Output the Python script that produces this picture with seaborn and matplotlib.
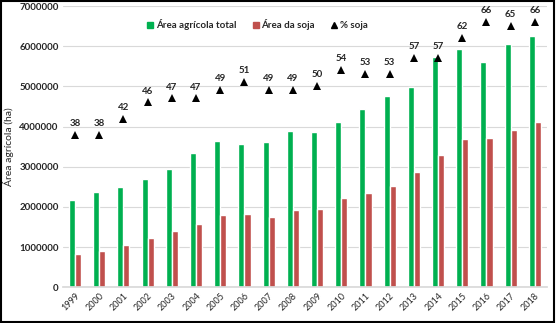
import matplotlib
matplotlib.use("Agg")
import matplotlib.pyplot as plt
import seaborn as sns
import pandas as pd
from matplotlib.lines import Line2D
from matplotlib.patches import Rectangle

years = [str(y) for y in range(1999, 2019)]
area_total = [2160000, 2360000, 2500000, 2700000, 2940000, 3330000, 3630000, 3570000, 3620000, 3880000,
              3870000, 4120000, 4440000, 4760000, 4990000, 5740000, 5920000, 5620000, 6050000, 6250000]
area_soja = [820000, 910000, 1040000, 1220000, 1390000, 1570000, 1800000, 1820000, 1750000, 1910000,
             1950000, 2210000, 2350000, 2530000, 2860000, 3300000, 3690000, 3720000, 3920000, 4110000]
pct_soja = [38, 38, 42, 46, 47, 47, 49, 51, 49, 49, 50, 54, 53, 53, 57, 57, 62, 66, 65, 66]
series_names = ["Área agrícola total", "Área da soja", "% soja"]
colors = ["#00B050", "#C0504D", "#000000"]

sns.set_theme(style="white")
plt.rcParams['font.family'] = ['Lato', 'DejaVu Sans']

df = pd.DataFrame({
    "ano": years * 2,
    "area": area_total + area_soja,
    "serie": [series_names[0]] * len(years) + [series_names[1]] * len(years),
})
dfp = pd.DataFrame({"ano": years, "pct": pct_soja})

fig = plt.figure(figsize=(5.57, 3.23), dpi=100)
ax = fig.add_axes([0.113, 0.111, 0.869, 0.870])
sns.barplot(data=df, x="ano", y="area", hue="serie", palette=colors[:2], width=0.5,
            ax=ax, legend=False, saturation=1)

ax.set_ylim(0, 7000000)
ax.set_xlim(-0.5, len(years) - 0.5)
ax.set_yticks(range(0, 7000001, 1000000))
ax.set_yticklabels([str(v) for v in range(0, 7000001, 1000000)], fontsize=7, fontweight="bold", color="#262626")
ax.set_xticks(range(len(years)))
ax.set_xticklabels(years, rotation=45, ha="right", rotation_mode="anchor", fontsize=6.5, color="#262626")
ax.tick_params(axis="both", length=0, pad=3)
ax.set_xlabel("")
ax.set_ylabel("Área agrícola (ha)", fontsize=7.5, color="#262626", labelpad=4)
ax.grid(axis="y", color="#D9D9D9", linewidth=0.8)
ax.set_axisbelow(True)
for s in ["top", "right", "left"]:
    ax.spines[s].set_visible(False)
ax.spines["bottom"].set_color("#D9D9D9")

ax2 = ax.twinx()
sns.pointplot(data=dfp, x="ano", y="pct", color="black", markers="^", linestyles="none",
              ax=ax2)
for ln in ax2.lines:
    ln.set_markersize(6)
    ln.set_markeredgewidth(0)
ax2.set_ylim(0, 70)
ax2.set_xlim(-0.5, len(years) - 0.5)
ax2.set_yticks([])
ax2.set_ylabel("")
ax2.set_xlabel("")
for s in ["top", "right", "left", "bottom"]:
    ax2.spines[s].set_visible(False)
for i, p in enumerate(pct_soja):
    ax2.annotate(str(p), (i, p), xytext=(0, 5), textcoords="offset points",
                 ha="center", va="bottom", fontsize=7, fontweight="bold", color="#262626")

handles = [Line2D([], [], marker="s", linestyle="none", color=colors[0], markersize=4),
           Line2D([], [], marker="s", linestyle="none", color=colors[1], markersize=4),
           Line2D([], [], marker="^", linestyle="none", color=colors[2], markersize=4)]
ax.legend(handles, series_names, loc="upper center", bbox_to_anchor=(0.40, 0.985), ncol=3,
          frameon=False, handletextpad=0.1, columnspacing=1.5, handlelength=1.0,
          labelcolor="#262626", prop={"weight": "bold", "size": 7})

fig.add_artist(Rectangle((0.002, 0.003), 0.993, 0.993, transform=fig.transFigure,
                         fill=False, edgecolor="black", linewidth=1.5))
fig.savefig("out.png", dpi=100)
